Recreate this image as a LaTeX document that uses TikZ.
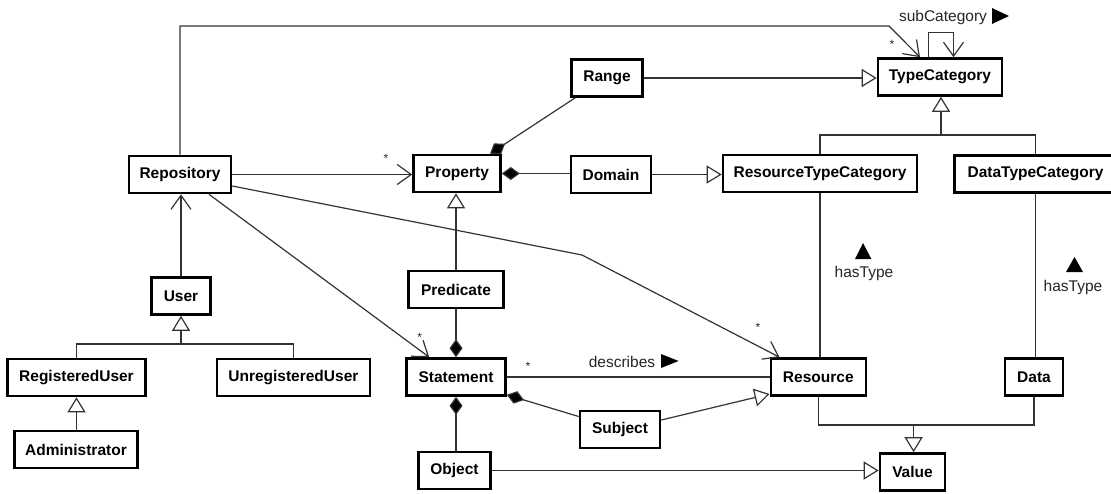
\documentclass[tikz,border=0pt]{standalone}
\usepackage{fontspec}
\setmainfont{Liberation Sans}
\usetikzlibrary{arrows.meta}
\begin{document}
\begin{tikzpicture}[x=1pt,y=-1pt,
  cls/.style={draw=black, line width=2.6pt, inner sep=0pt, minimum height=37pt,
    font=\fontsize{15.5}{18}\selectfont\bfseries},
  conn/.style={draw=black!80, line width=1.2pt},
  assoc/.style={conn, -{Straight Barb[length=14pt,width=20pt]}},
  gen/.style={conn, -{Triangle[open,length=15pt,width=18pt]}},
  comp/.style={conn, {Diamond[length=18pt,width=13pt,fill=black]}-},
  lbl/.style={font=\fontsize{15.5}{18}\selectfont, text=black!85, inner sep=0pt},
  star/.style={font=\fontsize{12}{13}\selectfont, text=black!85, inner sep=0pt}
]
\clip (0,0) rectangle (1111,493);
\fill[white] (0,0) rectangle (1111,493);

% classes
\node[cls, minimum width=102pt] (Repository) at (180,174.5) {Repository};
\node[cls, minimum width=87pt] (Property) at (457,173.5) {Property};
\node[cls, minimum width=71pt] (Range) at (607,78) {Range};
\node[cls, minimum width=124pt] (TypeCategory) at (940,77) {TypeCategory};
\node[cls, minimum width=80pt] (Domain) at (611,174.5) {Domain};
\node[cls, minimum width=194pt] (RTC) at (820,173.5) {ResourceTypeCategory};
\node[cls, minimum width=162pt] (DTC) at (1035.5,174) {DataTypeCategory};
\node[cls, minimum width=59pt] (User) at (181,296) {User};
\node[cls, minimum width=138pt] (RegisteredUser) at (76.5,377.5) {RegisteredUser};
\node[cls, minimum width=153pt] (UnregisteredUser) at (293.4,377.5) {UnregisteredUser};
\node[cls, minimum width=123pt] (Administrator) at (76,449.5) {Administrator};
\node[cls, minimum width=95pt] (Predicate) at (456,289.5) {Predicate};
\node[cls, minimum width=99pt] (Statement) at (456,377) {Statement};
\node[cls, minimum width=72pt] (Object) at (454.5,470.5) {Object};
\node[cls, minimum width=95pt] (Resource) at (818.3,377) {Resource};
\node[cls, minimum width=58pt] (Data) at (1034,377) {Data};
\node[cls, minimum width=80pt] (Subject) at (620,429.5) {Subject};
\node[cls, minimum width=65pt] (Value) at (912.5,472) {Value};

% bend / junction points
\coordinate (tcBend) at (889,26);
\coordinate (resBend) at (582,255);
\coordinate (tJ) at (941,135);
\coordinate (uJ) at (181,344);
\coordinate (vJ) at (913.6,425);

% connectors
\draw[assoc] (Repository.north) |- (tcBend) -- ([xshift=-20pt]TypeCategory.north);
\draw[assoc] ([xshift=-11.5pt]TypeCategory.north) -- ++(0,-25) -| ([xshift=13.5pt]TypeCategory.north);
\draw[gen] (Range.east) -- (Range.east -| TypeCategory.west);
\draw[comp] ([xshift=33pt]Property.north) -- ([xshift=5pt]Range.south west);
\draw[comp] (Property.east) -- (Property.east -| Domain.west);
\draw[gen] (Domain.east) -- (Domain.east -| RTC.west);
\draw[assoc] (Repository.east) -- (Repository.east -| Property.west);
\draw[conn] (RTC.north) |- (tJ);
\draw[conn] (DTC.north) |- (tJ);
\draw[gen] (tJ) -- (tJ |- TypeCategory.south);
\draw[gen] (Predicate.north) -- (Predicate.north |- Property.south);
\draw[assoc] (User.north) -- (User.north |- Repository.south);
\draw[conn] (RegisteredUser.north) |- (uJ);
\draw[conn] (UnregisteredUser.north) |- (uJ);
\draw[gen] (uJ) -- (uJ |- User.south);
\draw[gen] (RegisteredUser.south |- Administrator.north) -- (RegisteredUser.south);
\draw[assoc] ([xshift=29pt]Repository.south) -- ([xshift=24pt]Statement.north west);
\draw[assoc] ([yshift=-11.5pt]Repository.east) -- (resBend) -- ([xshift=10pt]Resource.north west);
\draw[comp] (Statement.north) -- (Statement.north |- Predicate.south);
\draw[conn] (Statement.east) -- (Statement.east -| Resource.west);
\draw[comp] ([yshift=2pt]Statement.south east) -- ([yshift=13pt]Subject.west);
\draw[comp] (Statement.south) -- (Statement.south |- Object.north);
\draw[gen] ([yshift=9.5pt]Subject.east) -- ([yshift=-17pt]Resource.west);
\draw[gen] (Object.east) -- (Object.east -| Value.west);
\draw[conn] (Resource.south) |- (vJ);
\draw[conn] (Data.south) |- (vJ);
\draw[gen] (vJ) -- (vJ |- Value.north);
\draw[conn] (RTC.south) -- (RTC.south |- Resource.north);
\draw[conn] (DTC.south) -- (DTC.south |- Data.north);

% multiplicities
\node[star] (m1) at (386,158) {*};
\node[star] (m2) at (892,44) {*};
\node[star] (m3) at (419.6,337) {*};
\node[star] (m4) at (528,366) {*};
\node[star] (m5) at (758,327) {*};

% association names
\node[lbl] (subcat) at (943,17) {subCategory};
\fill (992,8) -- (1009,16) -- (992,24) -- cycle;
\node[lbl] (describes) at (622,362) {describes};
\fill (661,354) -- (678.6,361) -- (661,368) -- cycle;
\node[lbl] (has1) at (864,273) {hasType};
\fill (855,259) -- (863,243) -- (871.4,259) -- cycle;
\node[lbl] (has2) at (1073,287) {hasType};
\fill (1066,272) -- (1074.5,257) -- (1083,272) -- cycle;
\end{tikzpicture}
\end{document}
